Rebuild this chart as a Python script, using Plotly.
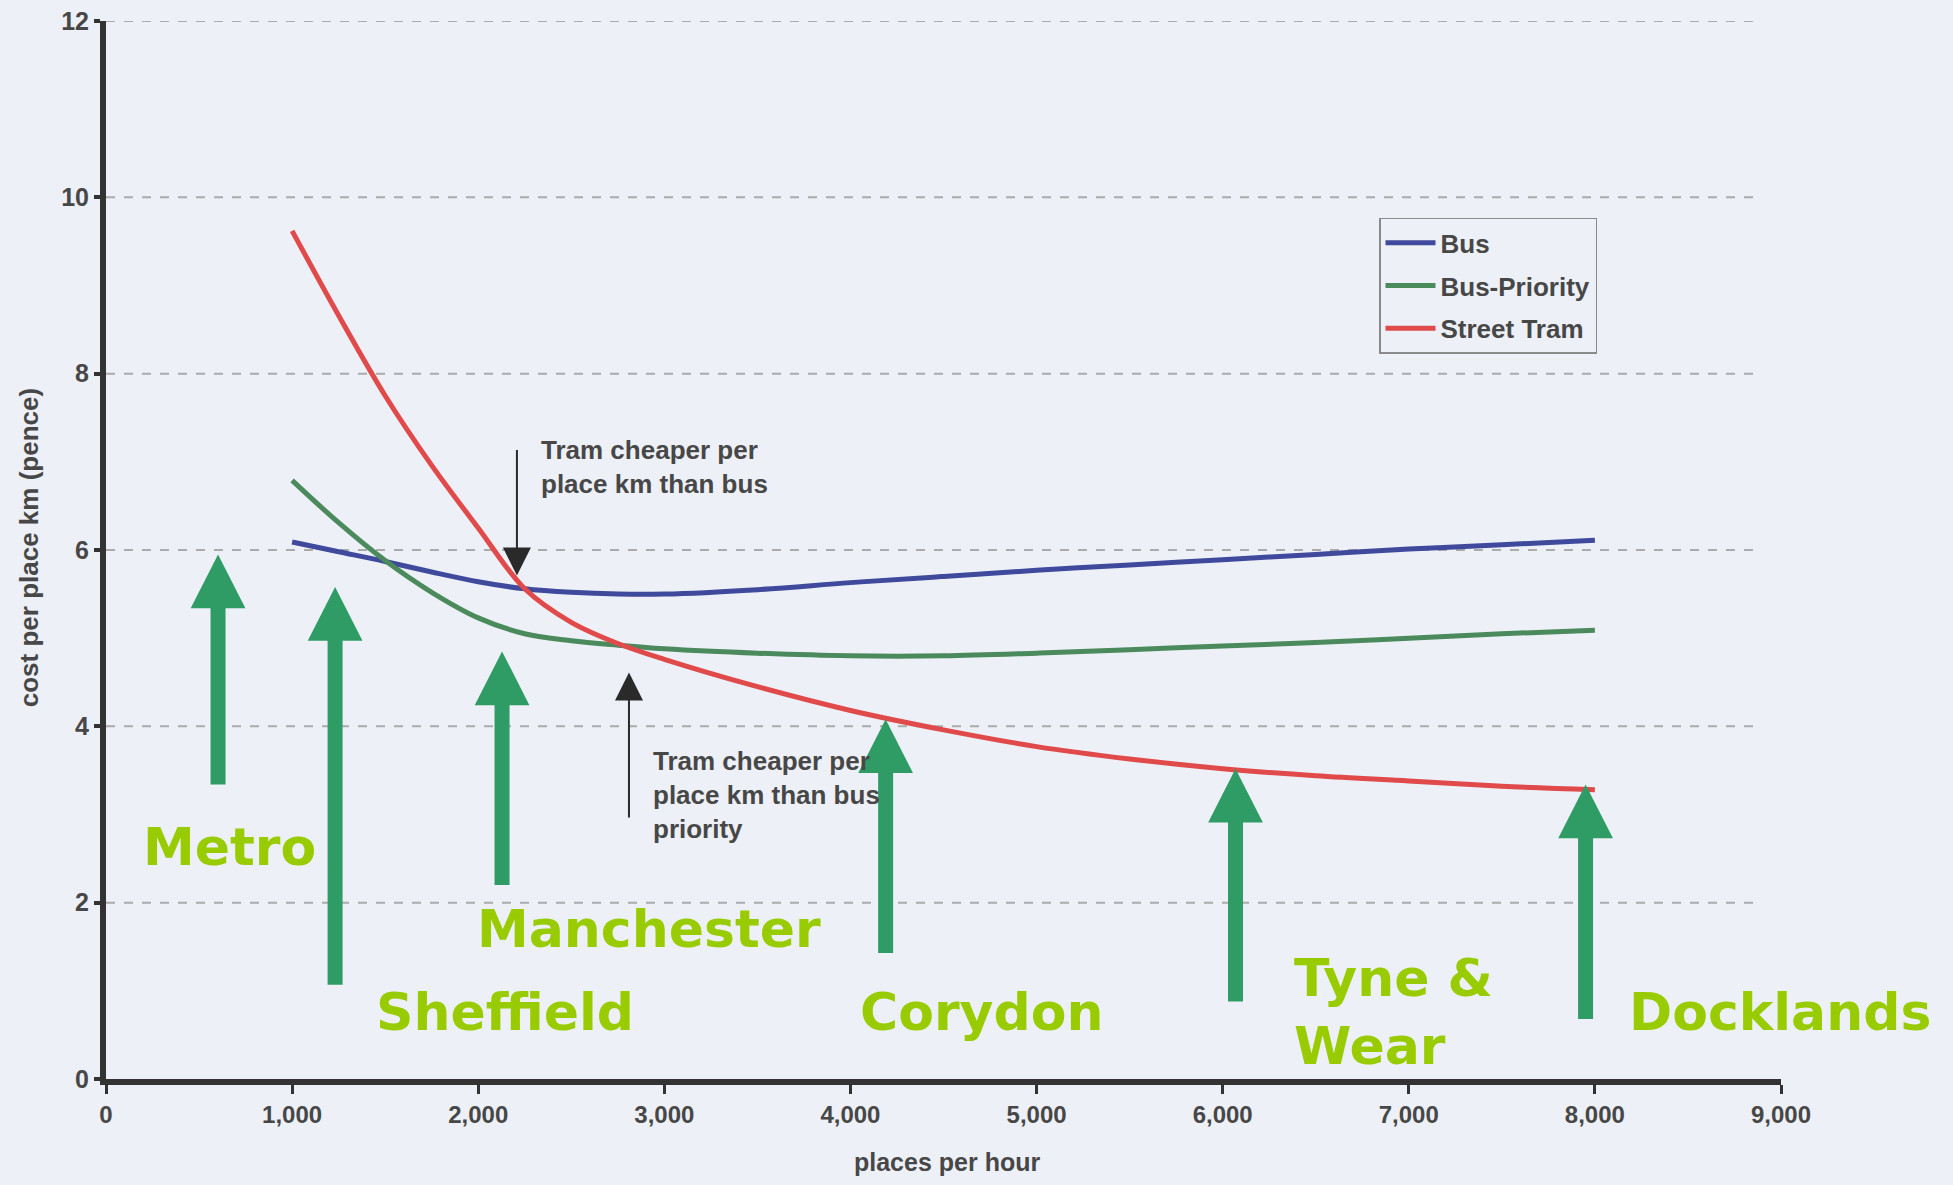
import plotly.graph_objects as go

# ---------------- data ----------------
places = [1000, 1250, 1500, 1750, 2000, 2250, 2500, 2750, 3000, 3500,
          4000, 4500, 5000, 5500, 6000, 6500, 7000, 7500, 8000]
bus = [6.09, 5.98, 5.87, 5.75, 5.64, 5.56, 5.52, 5.50, 5.50, 5.55,
       5.63, 5.70, 5.77, 5.83, 5.89, 5.95, 6.01, 6.06, 6.11]
bus_priority = [6.79, 6.31, 5.88, 5.52, 5.23, 5.05, 4.97, 4.92, 4.88, 4.83,
                4.80, 4.80, 4.83, 4.87, 4.91, 4.95, 5.00, 5.05, 5.09]
street_tram = [9.62, 8.66, 7.75, 6.96, 6.25, 5.56, 5.18, 4.94, 4.76, 4.45,
               4.18, 3.96, 3.77, 3.63, 3.52, 3.44, 3.38, 3.32, 3.28]

x_ticks = [0, 1000, 2000, 3000, 4000, 5000, 6000, 7000, 8000, 9000]
x_tick_labels = ["0", "1,000", "2,000", "3,000", "4,000", "5,000",
                 "6,000", "7,000", "8,000", "9,000"]
y_ticks = [0, 2, 4, 6, 8, 10, 12]

# system markers (green arrows): x position, tail value, tip value
sys_names = ["Metro", "Sheffield", "Manchester", "Corydon", "Tyne &<br>Wear", "Docklands"]
sys_arrow_x = [602, 1231, 2128, 4189, 6069, 7950]
sys_arrow_tail = [3.34, 1.07, 2.20, 1.43, 0.88, 0.68]
sys_arrow_tip = [5.95, 5.58, 4.85, 4.08, 3.52, 3.34]
sys_label_x = [187, 1439, 1981, 4042, 6370, 8170]
sys_label_y = [2.63, 0.76, 1.70, 0.76, 0.76, 0.76]

# black note arrows
note_texts = ["Tram cheaper per<br>place km than bus",
              "Tram cheaper per<br>place km than bus<br>priority"]
note_arrow_x = [2208, 2810]
note_arrow_tail = [7.15, 2.95]
note_arrow_tip = [5.71, 4.61]
note_text_x = [2324, 2931]
note_text_y = [6.94, 3.22]

# ---------------- styles ----------------
BG = "#edf0f6"
GRAY = "#474747"
AX = "#333333"
ARROW_GREEN = "#2f9c66"
LABEL_GREEN = "#99cc00"
FONT = "Liberation Sans, Arial, sans-serif"

fig = go.Figure()
series = [("Bus", bus, "#3f4a9c"),
          ("Bus-Priority", bus_priority, "#4b8a5c"),
          ("Street Tram", street_tram, "#e04a4a")]
for name, vals, col in series:
    fig.add_trace(go.Scatter(x=places, y=vals, name=name, mode="lines",
                             line=dict(color=col, width=5, shape="spline", smoothing=1.0),
                             legendgroup=name))

shapes = []
# dashed gridlines
for yv in y_ticks[1:]:
    shapes.append(dict(type="line", xref="x", yref="y", x0=0, x1=8850, y0=yv, y1=yv,
                       line=dict(color="#ababab", width=2, dash="dash"), layer="below"))

# green arrows
head_hw = 147
head_h = 0.61
for xa, ta, tp in zip(sys_arrow_x, sys_arrow_tail, sys_arrow_tip):
    shapes.append(dict(type="line", xref="x", yref="y", x0=xa, x1=xa, y0=ta, y1=tp - head_h + 0.05,
                       line=dict(color=ARROW_GREEN, width=15), layer="above"))
    shapes.append(dict(type="path", xref="x", yref="y",
                       path=f"M {xa - head_hw},{tp - head_h} L {xa + head_hw},{tp - head_h} L {xa},{tp} Z",
                       fillcolor=ARROW_GREEN, line=dict(color=ARROW_GREEN, width=0), layer="above"))

annotations = []
for xa, ta, tp in zip(note_arrow_x, note_arrow_tail, note_arrow_tip):
    annotations.append(dict(x=xa, y=tp, ax=xa, ay=ta, xref="x", yref="y", axref="x", ayref="y",
                            text="", showarrow=True, arrowhead=2, arrowsize=2.8, arrowwidth=2,
                            arrowcolor="#2a2a2a", standoff=0))
for t, xt, yt in zip(note_texts, note_text_x, note_text_y):
    annotations.append(dict(x=xt, y=yt, xref="x", yref="y", text=t, showarrow=False,
                            xanchor="left", yanchor="middle", align="left",
                            font=dict(family=FONT, size=26, color=GRAY, weight="bold")))
for t, xt, yt in zip(sys_names, sys_label_x, sys_label_y):
    annotations.append(dict(x=xt, y=yt, xref="x", yref="y", text=t, showarrow=False,
                            xanchor="left", yanchor="middle", align="left",
                            font=dict(family="DejaVu Sans, Verdana, sans-serif", size=52,
                                      color=LABEL_GREEN, weight="bold")))
# axis titles
annotations.append(dict(x=0, y=6.02, xref="paper", yref="y", xshift=-77, text="cost per place km (pence)",
                        textangle=-90, showarrow=False, xanchor="center", yanchor="middle",
                        font=dict(family=FONT, size=26, color=GRAY, weight="bold")))
annotations.append(dict(x=4520, y=0, xref="x", yref="paper", yshift=-83, text="places per hour",
                        showarrow=False, xanchor="center", yanchor="middle",
                        font=dict(family=FONT, size=25, color=GRAY, weight="bold")))

# the page adds an 8px body margin, so the figure is sized to fit inside it
fig.update_layout(
    width=1937, height=1169,
    margin=dict(l=98, r=164, t=13, b=98, autoexpand=False),
    paper_bgcolor=BG, plot_bgcolor=BG,
    shapes=shapes, annotations=annotations,
    showlegend=True,
    legend=dict(x=0.760, y=0.814, xanchor="left", yanchor="top",
                bgcolor=BG, bordercolor="#8a8a8a", borderwidth=1.5,
                font=dict(family=FONT, size=26, color=GRAY, weight="bold"),
                tracegroupgap=6, itemwidth=50),
    xaxis=dict(range=[0, 9000], tickvals=x_ticks, ticktext=x_tick_labels, automargin=False,
               showgrid=False, zeroline=False, showline=True, linecolor=AX, linewidth=6,
               ticks="outside", ticklen=9, tickwidth=3, tickcolor=AX, ticklabeloverflow="allow",
               tickfont=dict(family=FONT, size=24, color=GRAY, weight="bold")),
    yaxis=dict(range=[0, 12], tickvals=y_ticks, automargin=False,
               showgrid=False, zeroline=False, showline=True, linecolor=AX, linewidth=6,
               ticks="outside", ticklen=6, tickwidth=4, tickcolor=AX, ticklabeloverflow="allow",
               tickfont=dict(family=FONT, size=25, color=GRAY, weight="bold")),
)

fig.write_html("out.html",
               post_script="document.body.style.background='#edf0f6';"
                           "document.documentElement.style.background='#edf0f6';")
